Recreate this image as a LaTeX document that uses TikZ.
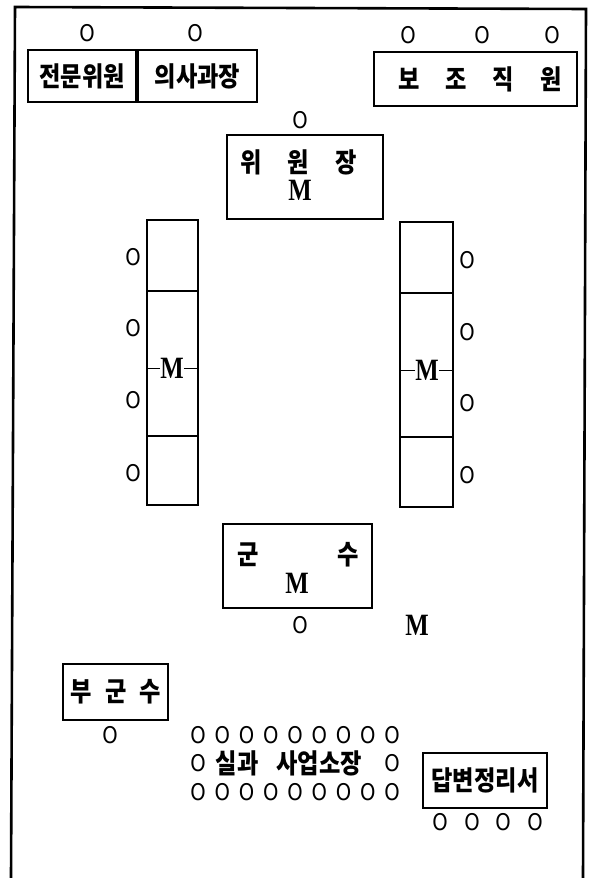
\documentclass[tikz,border=0pt]{standalone}
\usepackage{fontspec}
\newfontfamily\kr[FakeStretch=0.86]{Noto Sans CJK KR}
\newfontfamily\mfont[FakeStretch=0.8]{Liberation Serif}
\newfontfamily\ofont[FakeStretch=0.85]{DejaVu Sans}
\tikzset{
  box/.style={draw, line width=2pt, inner sep=0pt},
  divider/.style={line width=1.6pt},
  frameline/.style={line width=2.6pt},
  tick/.style={line width=1pt},
  seat/.style={font=\ofont\fontsize{23}{23}\selectfont, inner sep=0pt},
  kt/.style={font=\kr\bfseries\fontsize{27}{27}\selectfont, inner sep=0pt},
  mt/.style={font=\mfont\bfseries\fontsize{31}{31}\selectfont, inner sep=0pt},
}
\begin{document}
\begin{tikzpicture}[x=1pt,y=-1pt]
\useasboundingbox (0,0) rectangle (590,878);
% outer frame (open at bottom)
\coordinate (fbl) at (11,878);
\coordinate (ftl) at (15,7);
\coordinate (ftr) at (586,9);
\coordinate (fbr) at (583,878);
\draw[frameline] (fbl) -- (ftl) -- (ftr) -- (fbr);

% top left boxes
\node[box, kt, minimum width=108pt, minimum height=52pt] (jm) at (82,76) {전문위원};
\node[box, kt, minimum width=119pt, minimum height=52pt, anchor=west] (ui) at (jm.east) {의사과장};
\node[seat] (o1) at (87,33) {O};
\node[seat] (o2) at (195,33) {O};

% top right box
\node[box, minimum width=203pt, minimum height=54pt] (bj) at (475.5,79) {};
\node[kt] (bjt) at (480,79) {보\hspace{26pt}조\hspace{26pt}직\hspace{26pt}원};
\node[seat] (o3) at (408,35) {O};
\node[seat] (o4) at (482,35) {O};
\node[seat] (o5) at (552,35) {O};

% chairman
\node[box, minimum width=156pt, minimum height=84pt] (wj) at (305,177) {};
\node[kt] (wjt) at (298.5,162) {위\hspace{26pt}원\hspace{26pt}장};
\node[mt] (wjm) at (300,190) {M};
\node[seat] (o6) at (300,120) {O};

% left long table
\node[box, minimum width=51pt, minimum height=285pt] (lt) at (172.5,362.5) {};
\draw[divider] ([yshift=-72pt]lt.north west) -- ([yshift=-72pt]lt.north east);
\draw[divider] ([yshift=-217pt]lt.north west) -- ([yshift=-217pt]lt.north east);
\node[mt] (lm) at (172,368) {M};
\draw[tick] (lm.west) -- (lm.west -| lt.west);
\draw[tick] (lm.east) -- (lm.east -| lt.east);
\foreach \y [count=\i] in {257,328,400,473} {
  \node[seat] (l\i) at (133,\y) {O};
}

% right long table
\node[box, minimum width=53pt, minimum height=285pt] (rt) at (426.5,364.5) {};
\draw[divider] ([yshift=-72pt]rt.north west) -- ([yshift=-72pt]rt.north east);
\draw[divider] ([yshift=-216pt]rt.north west) -- ([yshift=-216pt]rt.north east);
\node[mt] (rm) at (427,370) {M};
\draw[tick] (rm.west) -- (rm.west -| rt.west);
\draw[tick] (rm.east) -- (rm.east -| rt.east);
\foreach \y [count=\i] in {260,332,403,475} {
  \node[seat] (r\i) at (467,\y) {O};
}

% county governor
\node[box, minimum width=149pt, minimum height=84pt] (gs) at (297.5,566) {};
\node[kt] (gst) at (298,555) {군\hspace{78pt}수};
\node[mt] (gsm) at (297,583) {M};
\node[seat] (o7) at (300,625) {O};
\node[mt] (m2) at (417,625) {M};

% vice governor
\node[box, minimum width=105pt, minimum height=56pt] (bg) at (115.5,692) {};
\node[kt] (bgt) at (116,692) {부\hspace{13pt}군\hspace{13pt}수};
\node[seat] (o8) at (110,735) {O};

% department heads
\foreach \i in {0,...,8} {
  \node[seat] (a\i) at ({198+24.25*\i},735) {O};
  \node[seat] (c\i) at ({198+24.25*\i},792) {O};
}
\node[seat] (b0) at (198,763) {O};
\node[kt] (sg) at (289,763) {실과\hspace{18pt}사업소장};
\node[seat] (b1) at (392,763) {O};

% answer desk
\node[box, kt, minimum width=124pt, minimum height=55pt] (db) at (485,780.5) {답변정리서};
\foreach \x [count=\i] in {440,472,503,535} {
  \node[seat] (d\i) at (\x,822) {O};
}
\end{tikzpicture}
\end{document}
